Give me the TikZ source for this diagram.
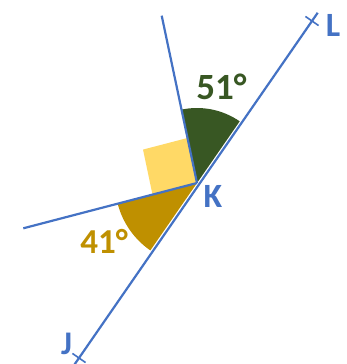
\documentclass[tikz,border=0pt]{standalone}
\usepackage{fontspec}
\setmainfont{Carlito}
\usepackage{xcolor}
\usetikzlibrary{calc}

\definecolor{rayblue}{HTML}{4472C4}
\definecolor{darkgreen}{HTML}{385723}
\definecolor{ochre}{HTML}{BF9000}
\definecolor{paleyellow}{HTML}{FFD966}

\begin{document}
\begin{tikzpicture}[x=1pt,y=1pt,
    ray/.style={rayblue, line width=2.2pt},
    tick/.style={rayblue, line width=1.6pt},
    ptlabel/.style={text=rayblue, font=\fontsize{34}{34}\selectfont\bfseries, inner sep=0pt},
    anglabel/.style={font=\fontsize{37}{37}\selectfont\bfseries, inner sep=0pt}]
    \useasboundingbox (0,0) rectangle (347,364);
    % points
    \coordinate (J) at (79,6);
    \coordinate (L) at (312,343);
    \coordinate (K) at (197,181);
    \coordinate (A) at (161.7,348.3);
    \coordinate (B) at (23.3,135.7);
    % marked angles
    \fill[darkgreen] (K) -- ++(55.3:75) arc[start angle=55.3, end angle=101.9, radius=75] -- cycle;
    \fill[ochre] (K) -- ++(194.6:82) arc[start angle=194.6, end angle=235.3, radius=82] -- cycle;
    \fill[paleyellow] (K) -- ++(101.9:46) -- ++(194.6:46) -- ++(281.9:46) -- cycle;
    % rays
    \draw[ray, shorten <=-9pt, shorten >=-10pt] (J) -- (L);
    \draw[ray] (K) -- (A);
    \draw[ray] (K) -- (B);
    \foreach \p in {J,L} {
        \draw[tick] ($(\p)+(145.3:8)$) -- ($(\p)+(-34.7:8)$);
    }
    \node[ptlabel] (labK) at (213,168) {K};
    \node[ptlabel, font=\fontsize{33}{33}\selectfont\bfseries] (labJ) at (66.5,20.5) {J};
    \node[ptlabel] (labL) at (333,339) {L};
    \node[anglabel, text=darkgreen] (ang51) at (221.5,277) {51°};
    \node[anglabel, text=ochre, font=\fontsize{35}{35}\selectfont\bfseries] (ang41) at (104,122.5) {41°};
\end{tikzpicture}
\end{document}
